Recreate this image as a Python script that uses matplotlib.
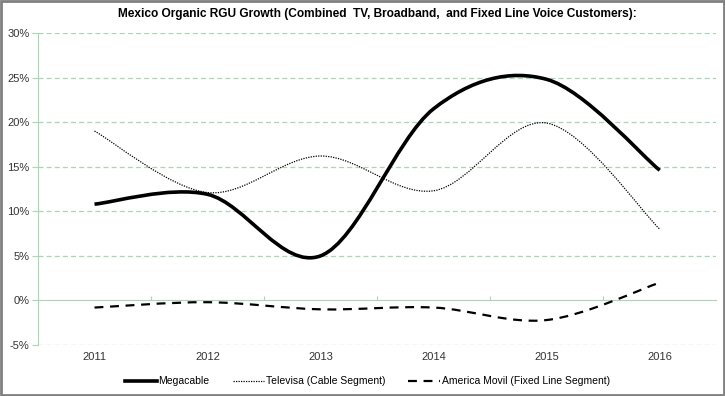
import matplotlib
matplotlib.use('Agg')
import matplotlib.pyplot as plt
from matplotlib.path import Path
from matplotlib.patches import PathPatch, Rectangle
from matplotlib.lines import Line2D

# Данные (в процентах)
years = ['2011', '2012', '2013', '2014', '2015', '2016']
megacable = [10.8, 11.9, 5.0, 21.5, 24.8, 14.6]
televisa = [19.0, 12.1, 16.2, 12.3, 19.9, 8.0]
america_movil = [-0.8, -0.2, -1.0, -0.8, -2.2, 2.0]

grid_color = '#a9d6b6'
plt.rcParams['font.family'] = ['Liberation Sans', 'DejaVu Sans']


def smooth_path(xs, ys):
    # сглаженная линия как в Excel (кривые Безье, Catmull-Rom)
    pts = list(zip(xs, ys))
    verts = [pts[0]]
    codes = [Path.MOVETO]
    n = len(pts)
    for i in range(n - 1):
        p0 = pts[i - 1] if i > 0 else pts[i]
        p1 = pts[i]
        p2 = pts[i + 1]
        p3 = pts[i + 2] if i + 2 < n else pts[i + 1]
        c1 = (p1[0] + (p2[0] - p0[0]) / 6, p1[1] + (p2[1] - p0[1]) / 6)
        c2 = (p2[0] - (p3[0] - p1[0]) / 6, p2[1] - (p3[1] - p1[1]) / 6)
        verts += [c1, c2, p2]
        codes += [Path.CURVE4] * 3
    return Path(verts, codes)


fig = plt.figure(figsize=(7.25, 3.96), dpi=100)
ax = fig.add_axes([0.0524, 0.1288, 0.9355, 0.7879])

x = list(range(len(years)))
styles = [
    (megacable, 'Megacable', dict(linewidth=2.6, linestyle='-')),
    (televisa, 'Televisa (Cable Segment)', dict(linewidth=0.9, linestyle=(0, (1, 1)))),
    (america_movil, 'America Movil (Fixed Line Segment)', dict(linewidth=1.6, linestyle=(0, (4, 3)))),
]
handles = []
for values, name, st in styles:
    patch = PathPatch(smooth_path(x, values), facecolor='none', edgecolor='black',
                      capstyle='butt', zorder=3, **st)
    ax.add_patch(patch)
    handles.append(Line2D([], [], color='black', label=name, **st))

ax.set_xlim(-0.5, len(years) - 0.5)
ax.set_ylim(-5, 30)
ax.set_yticks(range(-5, 31, 5))
ax.set_yticklabels([f'{v}%' for v in range(-5, 31, 5)], fontsize=8, color='#333333')
for v in range(-5, 31, 5):
    if v != 0:
        ax.axhline(v, color=grid_color, linestyle=(0, (4, 2.5)), linewidth=0.9, zorder=1)

for s in ['top', 'right']:
    ax.spines[s].set_visible(False)
ax.spines['left'].set_color(grid_color)
ax.spines['bottom'].set_color(grid_color)
ax.spines['bottom'].set_position(('data', 0))
ax.tick_params(axis='y', length=4, color=grid_color, pad=2)
ax.set_xticks([i + 0.5 for i in range(len(years) - 1)])
ax.set_xticklabels([])
ax.tick_params(axis='x', length=3, color=grid_color, direction='in')
for i, yr in enumerate(years):
    ax.text(i, -6.3, yr, ha='center', va='center', fontsize=8, color='#333333')

fig.text(0.52, 0.965, 'Mexico Organic RGU Growth (Combined  TV, Broadband,  and Fixed Line Voice Customers):',
         ha='center', va='center', fontsize=8.6, fontweight='bold')

fig.legend(handles=handles, loc='center', bbox_to_anchor=(0.507, 0.037), ncol=3, frameon=False,
           fontsize=7.5, handlelength=3.0, handletextpad=0.2, columnspacing=2.2)

fig.patches.append(Rectangle((0.001, 0.002), 0.997, 0.995, transform=fig.transFigure,
                             fill=False, edgecolor='#808080', linewidth=2))

fig.savefig('out.png', dpi=100)
